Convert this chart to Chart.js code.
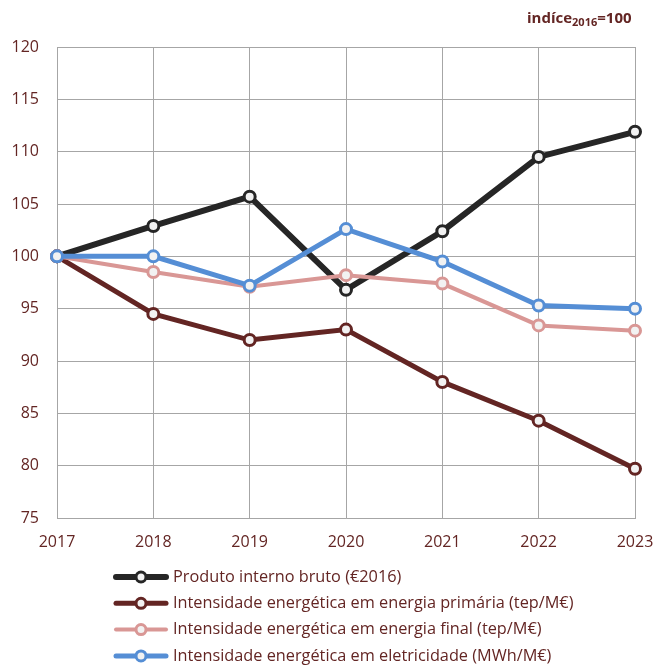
<!DOCTYPE html>
<html>
<head>
<meta charset="utf-8">
<script src="https://cdn.jsdelivr.net/npm/chart.js@4.4.1/dist/chart.umd.min.js"></script>
<style>
  html, body { margin: 0; padding: 0; background: #fff; }
  #wrap { width: 654px; height: 665px; position: relative; }
</style>
</head>
<body>
<div id="wrap"><canvas id="chart" width="654" height="665"></canvas></div>
<script>
const years = ["2017", "2018", "2019", "2020", "2021", "2022", "2023"];
const pib = [100, 102.9, 105.7, 96.8, 102.4, 109.5, 111.9];
const primaria = [100, 94.5, 92.0, 93.0, 88.0, 84.3, 79.7];
const final = [100, 98.5, 97.1, 98.2, 97.4, 93.4, 92.9];
const eletricidade = [100, 100.0, 97.2, 102.6, 99.5, 95.3, 95.0];
const seriesNames = [
  "Produto interno bruto (€2016)",
  "Intensidade energética em energia primária (tep/M€)",
  "Intensidade energética em energia final (tep/M€)",
  "Intensidade energética em eletricidade (MWh/M€)"
];

const textColor = "#632523";
const gridColor = "#a6a6a6";
const font = "'Open Sans', 'Noto Sans', sans-serif";

function line(label, data, color, width, order) {
  return {
    label, data, order,
    borderColor: color,
    borderWidth: width,
    pointRadius: 5.5,
    pointBorderWidth: 3,
    pointBackgroundColor: "#f2f2f2",
    pointBorderColor: color,
    tension: 0
  };
}

const legendPlugin = {
  id: "sideLegend",
  afterDraw(chart) {
    const ctx = chart.ctx;
    ctx.save();
    chart.data.datasets.forEach((ds, i) => {
      const y = 577 + i * 26.3;
      ctx.strokeStyle = ds.borderColor;
      ctx.lineWidth = ds.borderWidth;
      ctx.lineCap = "round";
      ctx.beginPath();
      ctx.moveTo(116, y);
      ctx.lineTo(166, y);
      ctx.stroke();
      ctx.beginPath();
      ctx.arc(141, y, 5, 0, Math.PI * 2);
      ctx.fillStyle = "#f2f2f2";
      ctx.fill();
      ctx.lineWidth = 3;
      ctx.stroke();
      ctx.fillStyle = textColor;
      ctx.font = "16.3px " + font;
      ctx.textBaseline = "middle";
      ctx.textAlign = "left";
      ctx.fillText(ds.label, 173, y);
    });
    // index label
    ctx.font = "bold 15px " + font;
    ctx.textBaseline = "alphabetic";
    ctx.fillStyle = textColor;
    let x = 527;
    const yb = 23;
    ctx.fillText("indíce", x, yb);
    x += ctx.measureText("indíce").width;
    ctx.font = "bold 11px " + font;
    ctx.fillText("2016", x, yb + 3);
    x += ctx.measureText("2016").width;
    ctx.font = "bold 15px " + font;
    ctx.fillText("=100", x, yb);
    ctx.restore();
  }
};

new Chart(document.getElementById("chart"), {
  type: "line",
  data: {
    labels: years,
    datasets: [
      line(seriesNames[0], pib, "#262626", 6, 4),
      line(seriesNames[1], primaria, "#632523", 5, 3),
      line(seriesNames[2], final, "#d99795", 4, 2),
      line(seriesNames[3], eletricidade, "#558ed5", 5, 1)
    ]
  },
  options: {
    responsive: false,
    animation: false,
    layout: { padding: { left: 0, right: 19, top: 47, bottom: 107 } },
    plugins: {
      legend: { display: false },
      tooltip: { enabled: false }
    },
    scales: {
      x: {
        offset: false,
        grid: { color: gridColor, lineWidth: 1, drawTicks: false },
        border: { color: gridColor },
        ticks: { color: textColor, font: { family: font, size: 16 }, padding: 15, maxRotation: 0 },
        afterFit(scale) {
          scale.height = 40;
          scale.paddingLeft = 0;
          scale.paddingRight = 0;
        }
      },
      y: {
        min: 75, max: 120,
        grid: { color: gridColor, lineWidth: 1, drawTicks: false },
        border: { color: gridColor },
        ticks: { stepSize: 5, color: textColor, font: { family: font, size: 16 }, padding: 18 },
        afterFit(scale) { scale.width = 57; }
      }
    }
  },
  plugins: [legendPlugin]
});
</script>
</body>
</html>
